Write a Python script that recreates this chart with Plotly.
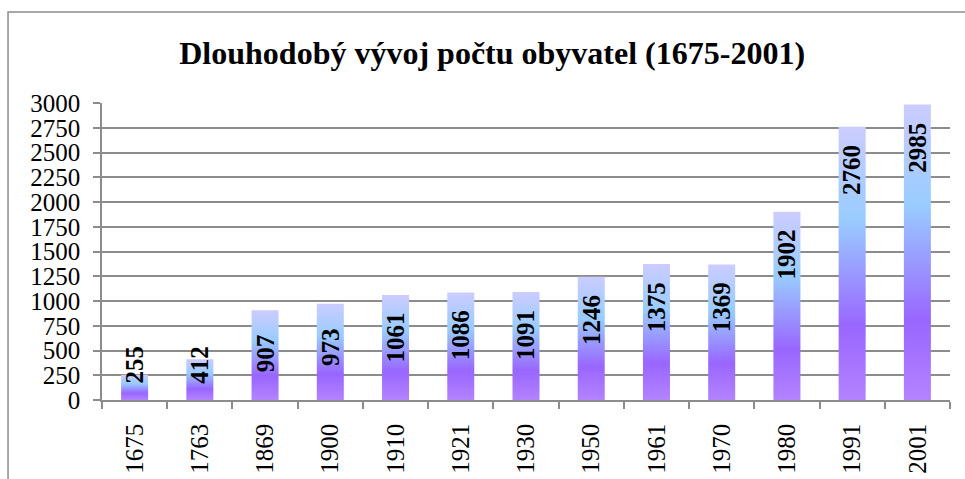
import plotly.graph_objects as go

# Data
years = ["1675", "1763", "1869", "1900", "1910", "1921", "1930",
         "1950", "1961", "1970", "1980", "1991", "2001"]
population = [255, 412, 907, 973, 1061, 1086, 1091,
              1246, 1375, 1369, 1902, 2760, 2985]
y_ticks = list(range(0, 3001, 250))

title = "Dlouhodobý vývoj počtu obyvatel (1675-2001)"
serif = "Liberation Serif"
grey = "#8c8c8c"

# Excel-like vertical gradient per bar (bottom -> top)
gradient = [[0.0, "#b383ff"], [0.27, "#9966ff"], [0.66, "#99ccff"], [1.0, "#ccccff"]]
half_w = 0.207

fig = go.Figure()

for i, v in enumerate(population):
    fig.add_trace(go.Scatter(
        x=[i - half_w, i - half_w, i + half_w, i + half_w, i - half_w],
        y=[0, v, v, 0, 0],
        mode="lines",
        line=dict(width=0),
        fill="toself",
        fillgradient=dict(type="vertical", colorscale=gradient),
        hoverinfo="skip",
        showlegend=False,
    ))

# Value labels, rotated, inside the top of each bar
for i, v in enumerate(population):
    fig.add_annotation(
        x=i, y=max(v, 790), yshift=-43,
        text=str(v), showarrow=False, textangle=-90,
        xanchor="center", yanchor="middle",
        font=dict(family=serif, size=25, color="black", weight=700),
    )

# Chart frame
fig.add_shape(type="rect", xref="paper", yref="paper",
              x0=-0.1108, x1=1.2, y0=-0.4, y1=1.3064,
              line=dict(color=grey, width=1.5), layer="below")

fig.update_layout(
    width=965, height=479,
    margin=dict(l=102, r=15, t=103, b=79, autoexpand=False),
    paper_bgcolor="white", plot_bgcolor="white",
    title=dict(text=title, x=0.51, xanchor="center",
               y=0.89, yanchor="middle",
               font=dict(family=serif, size=32, color="black", weight=700)),
    xaxis=dict(
        range=[-0.5, len(years) - 0.5], automargin=False,
        tickmode="array", tickvals=list(range(len(years))), ticktext=years,
        tickangle=-90, ticks="", ticklabelstandoff=12,
        showgrid=False, zeroline=False,
        showline=True, linecolor=grey, linewidth=1.5,
        tickfont=dict(family=serif, size=25, color="black"),
        minor=dict(tickmode="array",
                   tickvals=[i - 0.5 for i in range(len(years) + 1)],
                   ticks="outside", ticklen=7, tickcolor=grey, tickwidth=1.5,
                   showgrid=False),
    ),
    yaxis=dict(
        range=[0, 3000], tickmode="array", tickvals=y_ticks, automargin=False,
        ticks="outside", ticklen=7, tickcolor=grey, tickwidth=1.5,
        showgrid=True, gridcolor=grey, gridwidth=1.5,
        zeroline=False, showline=True, linecolor=grey, linewidth=1.5,
        ticklabelstandoff=8,
        tickfont=dict(family=serif, size=25, color="black"),
    ),
)

fig.write_html("out.html", config={"displayModeBar": False},
               post_script="document.body.style.margin='0px';")
